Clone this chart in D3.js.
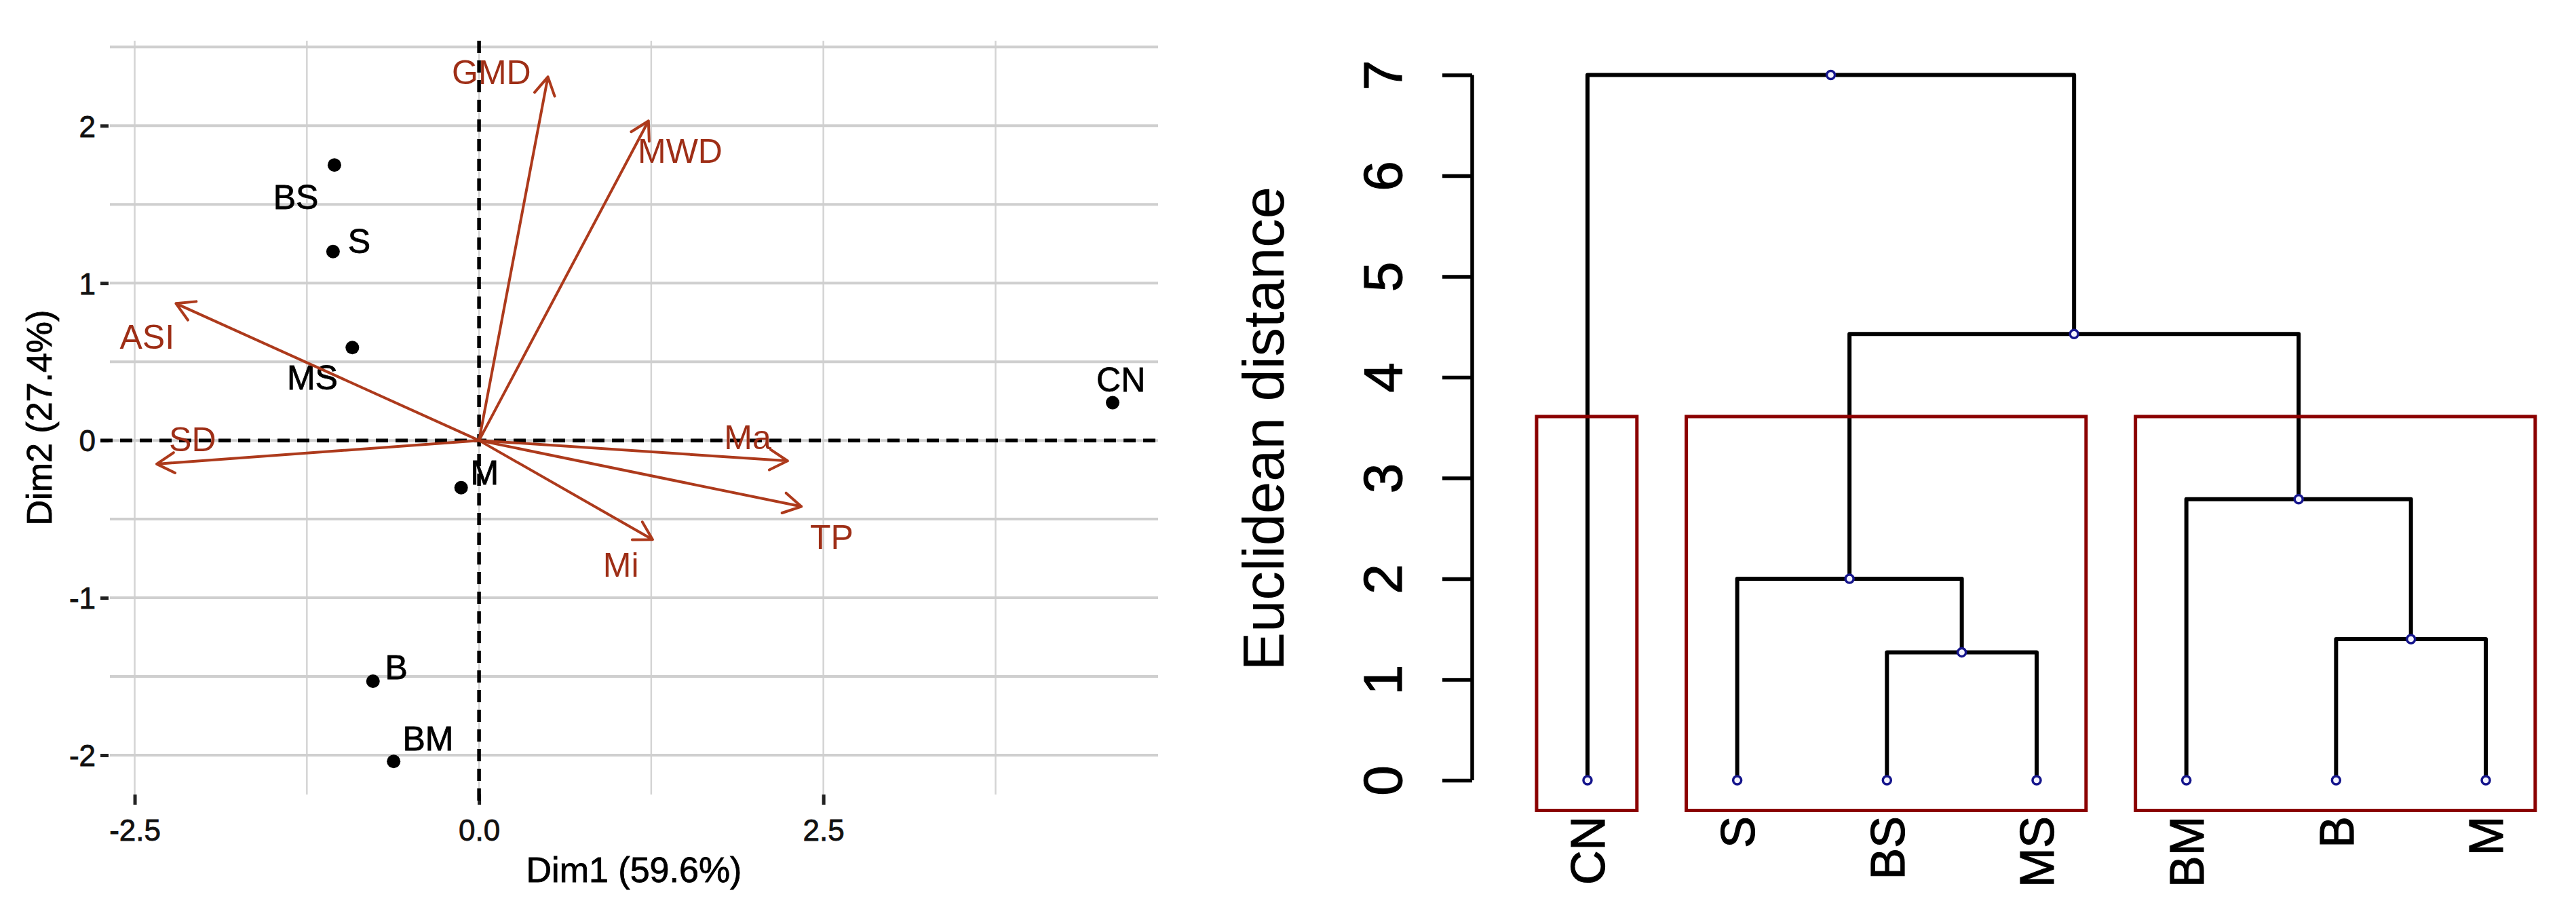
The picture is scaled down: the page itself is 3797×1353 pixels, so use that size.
<!DOCTYPE html>
<html lang="en">
<head>
<meta charset="utf-8">
<title>PCA biplot and cluster dendrogram</title>
<script src="https://d3js.org/d3.v7.min.js"></script>
<style>
  html, body { margin: 0; padding: 0; background: #fff; }
  svg { display: block; font-family: "Liberation Sans", Arial, sans-serif; }
</style>
</head>
<body>
<div id="chart"></div>
<script>
// ---- PCA biplot data ----
const individuals = ["BS", "S", "MS", "M", "B", "BM", "CN"];
const indDim1 = [-1.05, -1.06, -0.92, -0.13, -0.77, -0.62, 4.60];
const indDim2 = [1.75, 1.20, 0.59, -0.30, -1.53, -2.04, 0.24];
// where ggrepel put the labels (data units)
const indLabelDim1 = [-1.33, -0.87, -1.21, 0.04, -0.60, -0.37, 4.66];
const indLabelDim2 = [1.55, 1.27, 0.40, -0.20, -1.44, -1.89, 0.39];

const variables = ["GMD", "MWD", "ASI", "SD", "Ma", "TP", "Mi"];
const varDim1 = [0.50, 1.23, -2.20, -2.34, 2.24, 2.34, 1.26];
const varDim2 = [2.31, 2.03, 0.87, -0.15, -0.13, -0.42, -0.63];
const varLabelDim1 = [0.09, 1.46, -2.41, -2.08, 1.95, 2.56, 1.03];
const varLabelDim2 = [2.34, 1.84, 0.66, 0.01, 0.02, -0.61, -0.79];

const xTicks = [-2.5, 0, 2.5];
const xTickLabels = ["-2.5", "0.0", "2.5"];
const xMinor = [-1.25, 1.25, 3.75];
const yTicks = [-2, -1, 0, 1, 2];
const yTickLabels = ["-2", "-1", "0", "1", "2"];
const yMinor = [-1.5, -0.5, 0.5, 1.5, 2.5];

// ---- dendrogram data ----
const leaves = ["CN", "S", "BS", "MS", "BM", "B", "M"];
// hclust-style merges: negative = leaf number, positive = earlier merge step
const mergeLeft = [-3, -6, -2, -5, 3, -1];
const mergeRight = [-4, -7, 1, 2, 4, 5];
const mergeHeight = [1.27, 1.40, 2.00, 2.79, 4.43, 7.00];
const clusterOf = [1, 2, 2, 2, 3, 3, 3];
const dTicks = [0, 1, 2, 3, 4, 5, 6, 7];

const width = 3797, height = 1353;
const svg = d3.select("#chart").append("svg")
  .attr("width", width).attr("height", height);
svg.append("rect").attr("width", width).attr("height", height).attr("fill", "#fff");

// ================= left: biplot =================
const pLeft = 162, pRight = 1707, pTop = 60, pBottom = 1171;
const x = d3.scaleLinear().domain([-2.68, 4.93]).range([pLeft, pRight]);
const y = d3.scaleLinear().domain([-2.25, 2.54]).range([pBottom, pTop]);

const grid = svg.append("g");
grid.selectAll(".vg").data(xTicks.concat(xMinor)).join("line")
  .attr("x1", d => x(d)).attr("x2", d => x(d))
  .attr("y1", pTop).attr("y2", pBottom)
  .attr("stroke", "#d4d4d4").attr("stroke-width", 2.5);
grid.selectAll(".hg").data(yTicks.concat(yMinor)).join("line")
  .attr("x1", pLeft).attr("x2", pRight)
  .attr("y1", d => y(d)).attr("y2", d => y(d))
  .attr("stroke", "#cfcfcf").attr("stroke-width", 4);

// axes
const xAxis = svg.append("g")
  .attr("transform", `translate(0,${pBottom})`)
  .call(d3.axisBottom(x).tickValues(xTicks)
    .tickFormat((d, i) => xTickLabels[i]).tickSize(15).tickPadding(22));
const yAxis = svg.append("g")
  .attr("transform", `translate(${pLeft - 2},0)`)
  .call(d3.axisLeft(y).tickValues(yTicks)
    .tickFormat((d, i) => yTickLabels[i]).tickSize(12).tickPadding(7));
[xAxis, yAxis].forEach(a => {
  a.select(".domain").remove();
  a.selectAll("line").attr("stroke", "#222").attr("stroke-width", 5);
  a.selectAll("text").attr("fill", "#111").attr("stroke", "#111").attr("stroke-width", 0.8)
    .style("font-size", "44px");
});
yAxis.selectAll("text").attr("dy", "0.36em");

// dashed reference lines through the origin
svg.append("line")
  .attr("x1", pLeft - 14).attr("x2", pRight)
  .attr("y1", y(0)).attr("y2", y(0))
  .attr("stroke", "#000").attr("stroke-width", 5.5).attr("stroke-dasharray", "18 11");
svg.append("line")
  .attr("x1", x(0)).attr("x2", x(0))
  .attr("y1", pTop).attr("y2", pBottom + 15)
  .attr("stroke", "#000").attr("stroke-width", 5.5).attr("stroke-dasharray", "18 11");

// individuals
svg.append("g").selectAll("circle").data(individuals).join("circle")
  .attr("cx", (d, i) => x(indDim1[i])).attr("cy", (d, i) => y(indDim2[i]))
  .attr("r", 10).attr("fill", "#000");
svg.append("g").selectAll("text").data(individuals).join("text")
  .attr("x", (d, i) => x(indLabelDim1[i])).attr("y", (d, i) => y(indLabelDim2[i]))
  .attr("dy", "0.36em").attr("text-anchor", "middle")
  .style("font-size", "50px").attr("fill", "#000").attr("stroke", "#000").attr("stroke-width", 0.8)
  .text(d => d);

// variable arrows
const arrowColor = "#ad3a1c";
const ox = x(0), oy = y(0);
const headLen = 30, headAng = Math.PI / 6;
svg.append("g").selectAll("path").data(variables).join("path")
  .attr("d", (d, i) => {
    const tx = x(varDim1[i]), ty = y(varDim2[i]);
    const a = Math.atan2(ty - oy, tx - ox);
    const h1x = tx - headLen * Math.cos(a - headAng), h1y = ty - headLen * Math.sin(a - headAng);
    const h2x = tx - headLen * Math.cos(a + headAng), h2y = ty - headLen * Math.sin(a + headAng);
    return `M${ox},${oy}L${tx},${ty}M${h1x},${h1y}L${tx},${ty}L${h2x},${h2y}`;
  })
  .attr("fill", "none").attr("stroke", arrowColor).attr("stroke-width", 4)
  .attr("stroke-linecap", "round").attr("stroke-linejoin", "round");
svg.append("g").selectAll("text").data(variables).join("text")
  .attr("x", (d, i) => x(varLabelDim1[i])).attr("y", (d, i) => y(varLabelDim2[i]))
  .attr("dy", "0.36em").attr("text-anchor", "middle")
  .style("font-size", "50px").attr("fill", "#9e2e16")
  .text(d => d);

// axis titles
svg.append("text")
  .attr("x", (pLeft + pRight) / 2).attr("y", 1300)
  .attr("text-anchor", "middle").style("font-size", "52px")
  .attr("fill", "#000").attr("stroke", "#000").attr("stroke-width", 0.8)
  .text("Dim1 (59.6%)");
svg.append("text")
  .attr("transform", `translate(57,${(pTop + pBottom) / 2}) rotate(-90)`)
  .attr("dy", "0.36em").attr("text-anchor", "middle")
  .style("font-size", "52px").attr("fill", "#000").attr("stroke", "#000").attr("stroke-width", 0.8)
  .text("Dim2 (27.4%)");

// ================= right: dendrogram =================
const dx = d3.scaleLinear().domain([0.76, 7.24]).range([2287, 3717]);
const dy = d3.scaleLinear().domain([-0.3, 7.28]).range([1194.5, 69]);
const axisX = 2170;

const dAxis = svg.append("g")
  .attr("transform", `translate(${axisX},0)`)
  .call(d3.axisLeft(dy).tickValues(dTicks).tickFormat(d3.format("d"))
    .tickSize(44).tickSizeOuter(0));
dAxis.select(".domain").attr("d", `M0,${dy(0)}V${dy(7)}`)
  .attr("stroke", "#000").attr("stroke-width", 5.5);
dAxis.selectAll("line").attr("stroke", "#000").attr("stroke-width", 5.5);
dAxis.selectAll("text")
  .attr("x", null).attr("dy", "0.36em")
  .attr("transform", "translate(-133,0) rotate(-90)")
  .attr("text-anchor", "middle").attr("fill", "#000")
  .attr("stroke", "#000").attr("stroke-width", 1.2)
  .style("font-size", "80px");

svg.append("text")
  .attr("transform", `translate(1861,${(dy(-0.3) + dy(7.28)) / 2}) rotate(-90)`)
  .attr("dy", "0.36em").attr("text-anchor", "middle")
  .style("font-size", "85px").attr("fill", "#000")
  .text("Euclidean distance");

// node positions
const nodes = [];
const pos = id => id < 0 ? { x: dx(-id), h: 0 } : nodes[id - 1];
mergeHeight.forEach((h, i) => {
  const a = pos(mergeLeft[i]), b = pos(mergeRight[i]);
  nodes.push({ x: (a.x + b.x) / 2, h: h, a: a, b: b });
});

const dend = svg.append("g");
dend.selectAll("path").data(nodes).join("path")
  .attr("d", n => `M${n.a.x},${dy(n.a.h)}V${dy(n.h)}H${n.b.x}V${dy(n.b.h)}`)
  .attr("fill", "none").attr("stroke", "#000").attr("stroke-width", 6)
  .attr("stroke-linejoin", "round");

const markers = leaves.map((d, i) => ({ x: dx(i + 1), h: 0 })).concat(nodes);
dend.selectAll("circle").data(markers).join("circle")
  .attr("cx", n => n.x).attr("cy", n => dy(n.h))
  .attr("r", 6).attr("fill", "#f4f4ff").attr("stroke", "#15158c").attr("stroke-width", 3.5);

// leaf labels
svg.append("g").selectAll("text").data(leaves).join("text")
  .attr("transform", (d, i) => `translate(${dx(i + 1)},1203) rotate(-90)`)
  .attr("dy", "0.36em").attr("text-anchor", "end")
  .style("font-size", "70px").attr("fill", "#000")
  .attr("stroke", "#000").attr("stroke-width", 1.2)
  .text(d => d);

// cluster rectangles (rect.hclust, k = 3)
const k = d3.max(clusterOf);
const sortedH = mergeHeight.slice().sort((p, q) => q - p);
const rectTop = (sortedH[k - 2] + sortedH[k - 1]) / 2;
const clusters = d3.range(1, k + 1).map(c => {
  const idx = clusterOf.map((v, i) => v === c ? i + 1 : null).filter(v => v !== null);
  return { first: d3.min(idx), last: d3.max(idx) };
});
svg.append("g").selectAll("rect").data(clusters).join("rect")
  .attr("x", c => dx(c.first - 0.34))
  .attr("width", c => dx(c.last + 0.33) - dx(c.first - 0.34))
  .attr("y", dy(rectTop))
  .attr("height", dy(-0.3) - dy(rectTop))
  .attr("fill", "none").attr("stroke", "#8b0000").attr("stroke-width", 5);
</script>
</body>
</html>
